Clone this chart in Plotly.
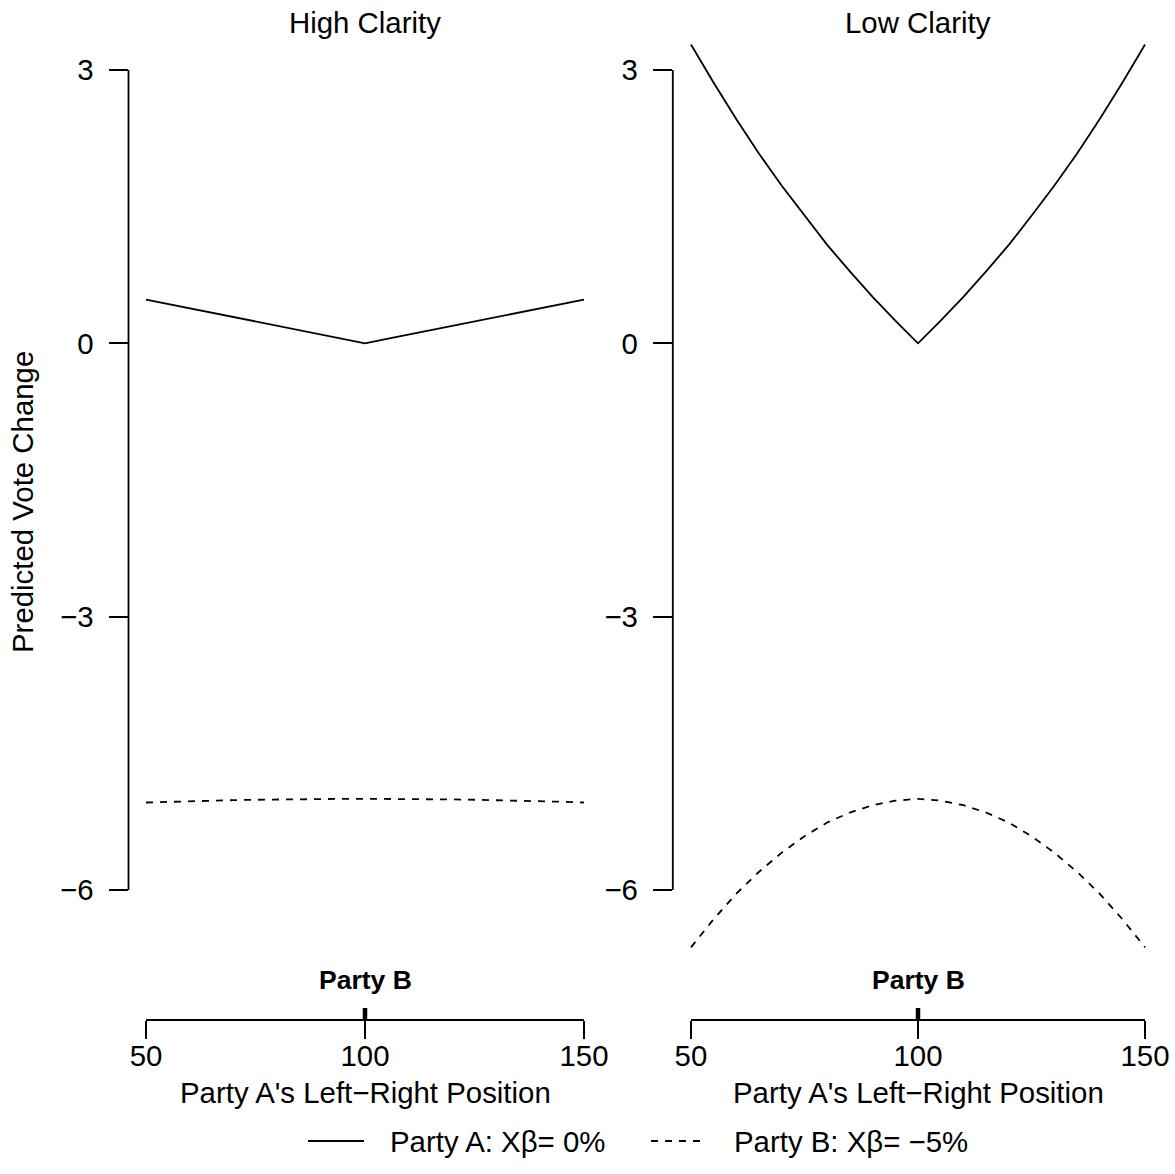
import plotly.graph_objects as go

# ---------------- data ----------------
positions = [50, 55, 60, 65, 70, 75, 80, 85, 90, 95, 100,
             105, 110, 115, 120, 125, 130, 135, 140, 145, 150]

high_party_a = [0.480, 0.432, 0.384, 0.336, 0.288, 0.240, 0.192, 0.144, 0.096, 0.048, 0.000,
                0.048, 0.096, 0.144, 0.192, 0.240, 0.288, 0.336, 0.384, 0.432, 0.480]
high_party_b = [-5.040, -5.032, -5.026, -5.020, -5.014, -5.010, -5.006, -5.004, -5.002, -5.000, -5.000,
                -5.000, -5.002, -5.004, -5.006, -5.010, -5.014, -5.020, -5.026, -5.032, -5.040]

low_party_a = [3.28, 2.86, 2.46, 2.08, 1.73, 1.40, 1.08, 0.79, 0.51, 0.25, 0.00,
               0.25, 0.51, 0.79, 1.08, 1.40, 1.73, 2.08, 2.46, 2.86, 3.28]
low_party_b = [-6.63, -6.32, -6.04, -5.80, -5.59, -5.41, -5.26, -5.15, -5.07, -5.02, -5.00,
               -5.02, -5.07, -5.15, -5.26, -5.41, -5.59, -5.80, -6.04, -6.32, -6.63]

party_b_position = [100]
panel_titles = ["High Clarity", "Low Clarity"]
x_ticks = [50, 100, 150]
y_ticks = [3, 0, -3, -6]
legend_labels = ["Party A: X\u03b2= 0%", "Party B: X\u03b2= \u22125%"]

# ---------------- layout helpers ----------------
W, H = 1175, 1174
FONT = "Liberation Sans"
FS = 29.4
LW = 1.8


def px_x(p):
    return p / W


def px_y(p):
    return 1 - p / H


y_range = [(343.3 - 960) / 91.11, (343.3 - 30) / 91.11]
y_domain = [px_y(960), px_y(30)]
x_domains = [[px_x(128.5), px_x(601.5)], [px_x(672.8), px_x(1163.2)]]
x_range = [46, 154]
bottom_axis_y = px_y(1020)

fig = go.Figure()

panels = [("x", "y", high_party_a, high_party_b), ("x2", "y2", low_party_a, low_party_b)]
for xa, ya, a_vals, b_vals in panels:
    fig.add_trace(go.Scatter(x=positions, y=a_vals, xaxis=xa, yaxis=ya, mode="lines",
                             line=dict(color="black", width=LW), showlegend=False,
                             hoverinfo="skip"))
    fig.add_trace(go.Scatter(x=positions, y=b_vals, xaxis=xa, yaxis=ya, mode="lines",
                             line=dict(color="black", width=LW, dash="7px,7px"),
                             showlegend=False, hoverinfo="skip"))

axis_font = dict(family=FONT, size=FS, color="black")
common_x = dict(range=x_range, tickvals=x_ticks, ticktext=[str(v) for v in x_ticks],
                ticks="outside", ticklen=18, tickwidth=LW, tickcolor="black",
                showline=False, showgrid=False, zeroline=False, tickfont=axis_font,
                anchor="free", position=bottom_axis_y, fixedrange=True,
                automargin=False, ticklabelstandoff=-8)
common_y = dict(range=y_range, domain=y_domain, tickvals=y_ticks,
                ticktext=["3", "0", "\u22123", "\u22126"],
                ticks="outside", ticklen=19, tickwidth=LW, tickcolor="black",
                showline=False, showgrid=False, zeroline=False, tickfont=axis_font,
                ticklabelstandoff=9, fixedrange=True, automargin=False)

fig.update_layout(
    width=W, height=H,
    margin=dict(l=0, r=0, t=0, b=0, autoexpand=False),
    paper_bgcolor="white", plot_bgcolor="white",
    font=dict(family=FONT, size=FS, color="black"),
    xaxis=dict(domain=x_domains[0], **common_x),
    xaxis2=dict(domain=x_domains[1], **common_x),
    yaxis=dict(anchor="x", **common_y),
    yaxis2=dict(anchor="x2", **common_y),
    showlegend=False,
)

shapes = []
annotations = []
centers = [365, 918]
for i, (xa, ya) in enumerate([("x", "y"), ("x2", "y2")]):
    # y axis line (only between extreme ticks)
    shapes.append(dict(type="line", xref=f"{xa} domain", yref=ya, x0=0, x1=0,
                       y0=min(y_ticks), y1=max(y_ticks), line=dict(color="black", width=LW)))
    # bottom axis line
    shapes.append(dict(type="line", xref=xa, yref="paper", x0=min(x_ticks), x1=max(x_ticks),
                       y0=bottom_axis_y, y1=bottom_axis_y, line=dict(color="black", width=LW)))
    # rug mark for party B
    for pb in party_b_position:
        shapes.append(dict(type="line", xref=xa, yref="paper", x0=pb, x1=pb,
                           y0=bottom_axis_y, y1=px_y(1008), line=dict(color="black", width=4.5)))
        annotations.append(dict(text="<b>Party B</b>", xref=xa, yref="paper", x=pb, y=px_y(980),
                                showarrow=False, xanchor="center", yanchor="middle",
                                font=dict(family=FONT, size=26.5, color="black")))
    annotations.append(dict(text=panel_titles[i], xref="paper", yref="paper",
                            x=px_x(centers[i]), y=px_y(22), showarrow=False,
                            xanchor="center", yanchor="middle", font=axis_font))
    annotations.append(dict(text="Party A's Left\u2212Right Position", xref="paper", yref="paper",
                            x=px_x(centers[i]), y=px_y(1092), showarrow=False,
                            xanchor="center", yanchor="middle", font=axis_font))

annotations.append(dict(text="Predicted Vote Change", xref="paper", yref="paper",
                        x=px_x(22), y=px_y(502), textangle=-90, showarrow=False,
                        xanchor="center", yanchor="middle", font=axis_font))

# legend
leg_y = 1141
shapes.append(dict(type="line", xref="paper", yref="paper", x0=px_x(308), x1=px_x(364),
                   y0=px_y(leg_y), y1=px_y(leg_y), line=dict(color="black", width=LW)))
shapes.append(dict(type="line", xref="paper", yref="paper", x0=px_x(651), x1=px_x(707),
                   y0=px_y(leg_y), y1=px_y(leg_y),
                   line=dict(color="black", width=LW, dash="7px,7px")))
annotations.append(dict(text=legend_labels[0], xref="paper", yref="paper", x=px_x(388),
                        y=px_y(leg_y), showarrow=False, xanchor="left", yanchor="middle",
                        font=axis_font))
annotations.append(dict(text=legend_labels[1], xref="paper", yref="paper", x=px_x(732),
                        y=px_y(leg_y), showarrow=False, xanchor="left", yanchor="middle",
                        font=axis_font))

fig.update_layout(shapes=shapes, annotations=annotations)
fig.write_html("out.html")
